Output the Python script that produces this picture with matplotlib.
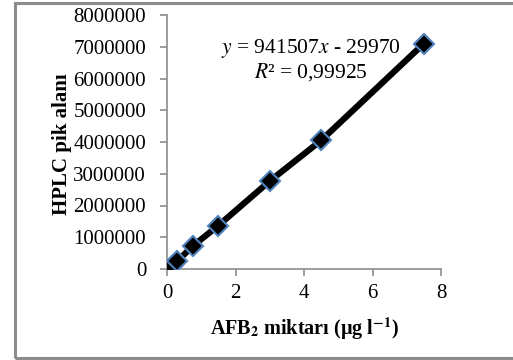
import numpy as np
import matplotlib.pyplot as plt
from matplotlib.patches import Rectangle

conc = [0.15, 0.3, 0.75, 1.5, 3.0, 4.5, 7.5]
area = [110000, 250000, 720000, 1370000, 2770000, 4050000, 7100000]
xticks = [0, 2, 4, 6, 8]
yticks = [0, 1000000, 2000000, 3000000, 4000000, 5000000, 6000000, 7000000, 8000000]

plt.rcParams['font.family'] = ['Liberation Serif', 'DejaVu Serif']
plt.rcParams['mathtext.fontset'] = 'stix'

fig = plt.figure(figsize=[5.13, 3.6], dpi=100)
ax = fig.add_axes([167/513, 91/360, 274/513, 254/360])

# outer chart border
fig.patches.append(Rectangle((15/513, 2/360), 520/513, 355/360, transform=fig.transFigure,
                             fill=False, edgecolor='#8c8c8c', linewidth=2.2, zorder=0))

ax.plot(conc, area, color='black', linewidth=4.5, zorder=2)
ax.plot(conc, area, linestyle='none', marker='D', markersize=10,
        markerfacecolor='black', markeredgecolor='#4f81bd', markeredgewidth=1.5, zorder=3)

ax.set_xlim(0, 8)
ax.set_ylim(0, 8000000)
ax.set_xticks(xticks)
ax.set_yticks(yticks)
ax.set_yticklabels([str(v) for v in yticks])
ax.tick_params(axis='both', labelsize=15, color='#8c8c8c', length=5, width=1.2, direction='out')
ax.tick_params(axis='y', pad=10)
ax.tick_params(axis='x', pad=6)
for s in ['top', 'right']:
    ax.spines[s].set_visible(False)
for s in ['left', 'bottom']:
    ax.spines[s].set_color('#8c8c8c')
    ax.spines[s].set_linewidth(1.2)

ax.set_xlabel(r'AFB$_\mathbf{2}$ miktarı (µg l$^{\mathbf{-1}}$)', fontsize=14.5, fontweight='bold', labelpad=9)
ax.set_ylabel('HPLC pik alanı', fontsize=15, fontweight='bold')
ax.yaxis.set_label_coords(-0.345, 0.49)

ax.text(4.2, 6960000, r'$y$ = 941507$x$ - 29970', fontsize=15.5, ha='center', va='center')
ax.text(4.2, 6200000, r'$R$² = 0,99925', fontsize=15.5, ha='center', va='center')

fig.savefig('out.png', dpi=100)
